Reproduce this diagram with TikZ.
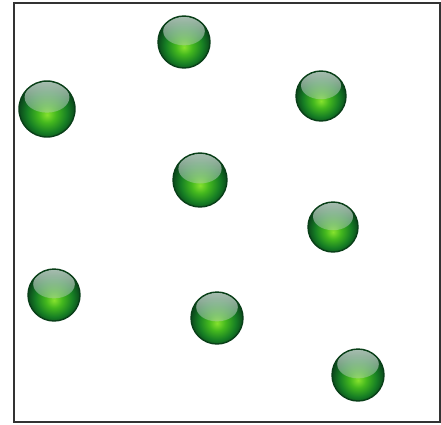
\documentclass[tikz,border=0pt]{standalone}
\usepackage{tikz}
\usepackage{xcolor}
\usetikzlibrary{fadings}
\definecolor{ltgreen}{HTML}{86E22E}
\definecolor{midgreen}{HTML}{44B81E}
\definecolor{dkgreen}{HTML}{167E24}
\definecolor{rimgreen}{HTML}{0B4A1C}
\definecolor{glint}{HTML}{C4D4CC}
\pgfdeclareradialshading{glassball}{\pgfpoint{0bp}{-5bp}}{color(0bp)=(ltgreen); color(8bp)=(midgreen); color(18bp)=(dkgreen); color(25bp)=(rimgreen); color(50bp)=(rimgreen)}
\tikzset{greenball/.style={circle,inner sep=0pt,minimum size=2*#1pt,shading=glassball,draw=rimgreen!85!black,line width=1.4pt,
  path picture={\fill[glint,fill opacity=0.85,path fading=south]([yshift=0.42*#1pt]path picture bounding box.center) ellipse[x radius=0.8*#1pt,y radius=0.55*#1pt];}}}

\begin{document}
\begin{tikzpicture}[x=1pt,y=1pt]
\useasboundingbox[fill=white](0,0) rectangle (441,424);
\draw[line width=2pt,black!80](14,2) rectangle (440,421);
\node[greenball=26](b1) at (184,382){};
\node[greenball=28](b2) at (47,315){};
\node[greenball=25](b3) at (321,328){};
\node[greenball=27](b4) at (200,244){};
\node[greenball=25](b5) at (333,197){};
\node[greenball=26](b6) at (54,129){};
\node[greenball=26](b7) at (217,106){};
\node[greenball=26](b8) at (358,49){};
\end{tikzpicture}
\end{document}
